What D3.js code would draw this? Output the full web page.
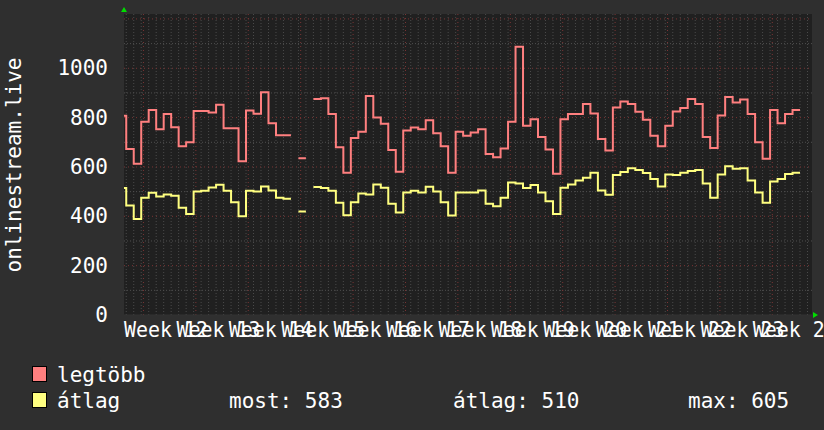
<!DOCTYPE html>
<html><head><meta charset="utf-8">
<script src="https://cdn.jsdelivr.net/npm/d3@7"></script>
<style>body{margin:0;background:#2f2f2f}svg{display:block}text{font-family:"DejaVu Sans Mono",monospace;fill:#fff}</style>
</head><body><svg id="c" width="824" height="430"></svg>
<script>
const maxValues=[808,673,613,783,831,753,815,761,684,700,827,827,821,852,757,757,623,829,816,903,777,729,729,null,635,null,875,879,815,680,577,717,743,888,801,775,669,581,748,760,753,789,737,684,577,743,727,740,753,653,639,675,783,1087,767,793,721,671,573,793,815,815,855,817,713,667,841,865,855,824,791,727,684,767,825,839,875,855,721,677,809,884,861,873,815,700,633,831,777,815,831];
const avgValues=[515,444,389,475,495,480,488,483,435,409,501,504,517,528,504,457,400,504,501,521,505,475,471,null,420,null,519,515,504,455,404,457,492,488,529,516,451,415,497,504,497,520,501,457,403,497,497,497,505,451,441,475,537,533,515,527,497,461,409,516,529,545,556,577,505,487,567,580,595,588,576,551,521,569,567,577,584,588,533,475,569,603,593,595,545,497,455,541,551,571,577];
const weekLabels=["Week 12","Week 13","Week 14","Week 15","Week 16","Week 17","Week 18","Week 19","Week 20","Week 21","Week 22","Week 23","Week 24"];
const yTicks=[0,200,400,600,800,1000];
const legendNames=["legtöbb","átlag"];
const colors=["#ff7f7f","#ffff80"];
const stats=["most: 583","átlag: 510","max: 605"];

const svg=d3.select("#c");
const L=124,R=812,T=14,B=315;
const x=d3.scaleLinear().domain([0.7,92.6]).range([L,R]);
const y=d3.scaleLinear().domain([0,1220]).range([B,T]);
svg.append("rect").attr("x",L).attr("y",T).attr("width",R-L).attr("height",B-T).attr("fill","#202020");
const g=svg.append("g");
// minor vertical (daily)
for(let d=1;d<=92;d++){g.append("line").attr("x1",x(d)).attr("x2",x(d)).attr("y1",T).attr("y2",B).attr("stroke","#4a4a4a").attr("stroke-dasharray","1,2");}
// minor horizontal
d3.range(100,1201,100).forEach(v=>{const maj=v%200===0;g.append("line").attr("x1",L).attr("x2",R).attr("y1",y(v)).attr("y2",y(v)).attr("stroke",maj?"#7a3434":"#4e4e4e").attr("stroke-dasharray",maj?"1,3":"1,2");});
// major vertical weeks
weekLabels.forEach((w,i)=>{const d=3.3+7*i;g.append("line").attr("x1",x(d)).attr("x2",x(d)).attr("y1",T).attr("y2",B+3).attr("stroke","#7a3434").attr("stroke-dasharray","1,3");});
// axes
svg.append("line").attr("x1",L).attr("x2",R+2).attr("y1",B).attr("y2",B).attr("stroke","#333");
svg.append("path").attr("d",`M${R+1},${B-3}L${R+6},${B}L${R+1},${B+3}Z`).attr("fill","#00dd00");
svg.append("path").attr("d",`M${L-3},${T-2}L${L},${T-7}L${L+3},${T-2}Z`).attr("fill","#00dd00");
// lines
function draw(vals,col){
  const line=d3.line().defined(d=>d.v!=null).x(d=>x(d.t)).y(d=>y(d.v));
  const pts=[];
  vals.forEach((v,i)=>{const a=Math.max(i,0.7),b=i+1;pts.push({t:a,v},{t:b,v});});
  // break between null segments, connect consecutive
  svg.append("path").attr("d",line(pts)).attr("fill","none").attr("stroke",col).attr("stroke-width",2);
}
draw(maxValues,colors[0]);draw(avgValues,colors[1]);
// y ticks
yTicks.forEach(v=>svg.append("text").attr("x",108).attr("y",y(v)+7).attr("text-anchor","end").attr("font-size",21).text(v));
svg.append("text").attr("transform","translate(21,165) rotate(-90)").attr("text-anchor","middle").attr("font-size",21).text("onlinestream.live");
// week labels
weekLabels.forEach((w,i)=>svg.append("text").attr("x",x(0.7+7*i)).attr("y",337).attr("font-size",21).attr("textLength",84).attr("lengthAdjust","spacingAndGlyphs").text(w));
// legend
legendNames.forEach((n,i)=>{const yy=366+26*i;
 svg.append("rect").attr("x",32.5).attr("y",yy+0.5).attr("width",14).attr("height",15).attr("fill",colors[i]).attr("stroke","#000");
 svg.append("text").attr("x",57).attr("y",yy+16).attr("font-size",21).text(n);});
[229,453,688].forEach((xx,i)=>svg.append("text").attr("x",xx).attr("y",408).attr("font-size",21).text(stats[i]));
</script></body></html>
